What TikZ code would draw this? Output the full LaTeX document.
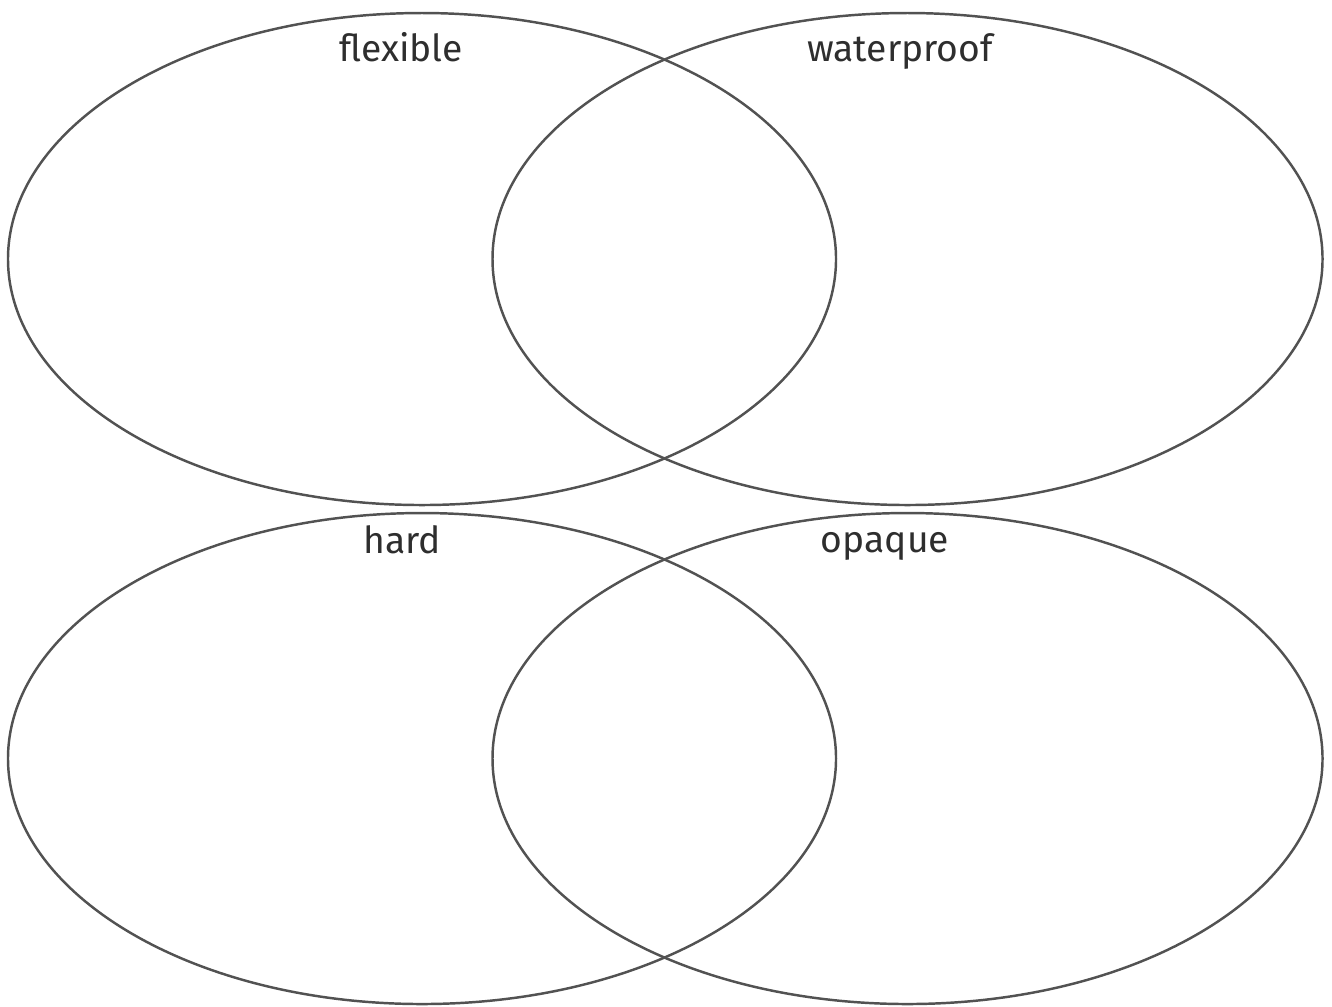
\documentclass[tikz,border=0pt]{standalone}
\usepackage{fontspec}
\setmainfont{Fira Sans}
\usepackage{tikz}

\begin{document}
\begin{tikzpicture}[
    ring/.style={draw=black!68, line width=0.7pt},
    setlabel/.style={anchor=base, text=black!82, font=\fontsize{10.6}{13}\selectfont}
  ]
  \def\rx{4.15}
  \def\ry{2.46}
  \def\xl{4.22}
  \def\xr{9.075}
  \def\ytop{-2.59}
  \def\ybot{-7.585}

  % page ------------------------------------------------------------------
  \useasboundingbox (0,0) rectangle (13.32,-10.06);

  % top pair --------------------------------------------------------------
  \draw[ring] (\xl, \ytop) ellipse [x radius=4.14, y radius=\ry];
  \draw[ring] (\xr, \ytop) ellipse [x radius=\rx, y radius=\ry];

  % bottom pair -----------------------------------------------------------
  \draw[ring] (\xl, \ybot) ellipse [x radius=4.14, y radius=2.455];
  \draw[ring] (\xr, \ybot) ellipse [x radius=\rx, y radius=2.455];

  % Labels ----------------------------------------------------------------
  \node[setlabel] (flexible)   at (4.01, -0.615) {flexible};
  \node[setlabel] (waterproof) at (9.00, -0.615) {waterproof};
  \node[setlabel] (hard)       at (4.02, -5.53)  {hard};
  \node[setlabel] (opaque)     at (8.85, -5.52)  {opaque};

\end{tikzpicture}
\end{document}
